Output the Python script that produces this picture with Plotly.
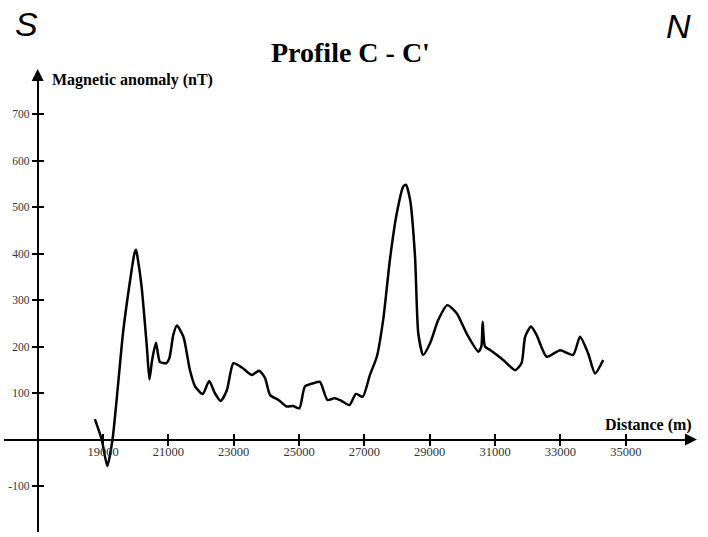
import plotly.graph_objects as go

# ---- data ----
distance_m = [18750, 18960, 19130, 19290, 19620, 19830, 19960, 20010, 20060, 20180,
              20340, 20420, 20500, 20620, 20740, 20930, 21030, 21150, 21260, 21460,
              21660, 21820, 22050, 22250, 22420, 22600, 22790, 22990, 23250, 23550,
              23780, 23960, 24110, 24370, 24620, 24820, 25010, 25180, 25440, 25640,
              25870, 26100, 26300, 26540, 26740, 26950, 27170, 27380, 27580, 27780,
              27990, 28190, 28270, 28400, 28550, 28650, 28800, 29010, 29260, 29540,
              29830, 30130, 30490, 30580, 30620, 30690, 30840, 31250, 31610, 31810,
              31920, 32100, 32270, 32580, 32990, 33390, 33600, 33850, 34060, 34310]
anomaly_nT = [44, 0, -57, 0, 235, 343, 400, 408, 390, 329,
              200, 129, 170, 208, 167, 164, 175, 225, 245, 221,
              149, 114, 98, 126, 100, 83, 106, 164, 155, 139,
              148, 132, 96, 85, 71, 72, 67, 114, 121, 124,
              85, 89, 83, 74, 98, 92, 139, 178, 260, 386,
              486, 544, 548, 515, 393, 228, 182, 207, 257, 289,
              271, 228, 189, 200, 253, 200, 193, 171, 149, 164,
              221, 243, 225, 178, 192, 182, 221, 185, 142, 171]

x_tickvals = [19000, 21000, 23000, 25000, 27000, 29000, 31000, 33000, 35000]
x_ticktext = ["19000", "21000", "23000", "25000", "27000", "29000", "31000", "33000", "35000"]
y_tickvals = [-100, 100, 200, 300, 400, 500, 600, 700]
y_ticktext = ["-100", "100", "200", "300", "400", "500", "600", "700"]

title_text = "Profile C - C'"
y_title = "Magnetic anomaly (nT)"
x_title = "Distance (m)"
left_label = "S"
right_label = "N"

# ---- axes geometry ----
x_range = [15968, 37028]
y_range = [-198.9, 783.9]
y_axis_at = 17000
x_axis_at = 0
ypos = (y_axis_at - x_range[0]) / (x_range[1] - x_range[0])
xpos = (x_axis_at - y_range[0]) / (y_range[1] - y_range[0])

serif = "Liberation Serif, Times New Roman, serif"
sans = "Liberation Sans, Arial, sans-serif"

fig = go.Figure()
fig.add_trace(go.Scatter(x=distance_m, y=anomaly_nT, mode="lines",
                         line=dict(color="black", width=2.5, shape="spline", smoothing=0.6),
                         hoverinfo="skip", showlegend=False))
# invisible copy to carry the overlaid tick axes
fig.add_trace(go.Scatter(x=distance_m, y=anomaly_nT, mode="lines", xaxis="x2", yaxis="y2",
                         opacity=0, line=dict(width=0), hoverinfo="skip", showlegend=False))

common_x = dict(range=x_range, tickvals=x_tickvals, ticktext=x_ticktext, showgrid=False,
                zeroline=False, anchor="free", position=xpos, fixedrange=True)
common_y = dict(range=y_range, tickvals=y_tickvals, ticktext=y_ticktext, showgrid=False,
                zeroline=False, anchor="free", position=ypos, fixedrange=True)

fig.update_layout(
    width=708, height=537, autosize=False,
    margin=dict(l=4, r=16, t=75, b=5, pad=0),
    paper_bgcolor="white", plot_bgcolor="white",
    xaxis=dict(**common_x, showline=True, linecolor="black", linewidth=2,
               ticks="inside", ticklen=5, tickwidth=1.5, tickcolor="black",
               tickfont=dict(family=serif, size=12.5, color="#333")),
    yaxis=dict(**common_y, showline=True, linecolor="black", linewidth=2,
               ticks="outside", ticklen=5, tickwidth=1.5, tickcolor="black",
               tickfont=dict(family=serif, size=11.5, color="#333")),
    xaxis2=dict(**common_x, overlaying="x", showline=False, ticks="outside", ticklen=5,
                tickwidth=1.5, tickcolor="black", showticklabels=False),
    yaxis2=dict(**common_y, overlaying="y", showline=False, ticks="inside", ticklen=5,
                tickwidth=1.5, tickcolor="black", showticklabels=False),
)

# axis arrowheads
fig.add_annotation(x=y_axis_at, y=1.0131, xref="x", yref="paper", ax=0, ay=14, text="",
                   showarrow=True, arrowhead=2, arrowsize=1.2, arrowwidth=2,
                   arrowcolor="black", standoff=0)
fig.add_annotation(x=1.0073, y=x_axis_at, xref="paper", yref="y", ax=-14, ay=0, text="",
                   showarrow=True, arrowhead=2, arrowsize=1.2, arrowwidth=2,
                   arrowcolor="black", standoff=0)

# texts
fig.add_annotation(x=0.503, y=1.049, xref="paper", yref="paper", text="<b>%s</b>" % title_text,
                   showarrow=False, font=dict(family=serif, size=28, color="black"),
                   xanchor="center", yanchor="middle")
fig.add_annotation(x=0.0669, y=0.989, xref="paper", yref="paper", text="<b>%s</b>" % y_title,
                   showarrow=False, font=dict(family=serif, size=16, color="black"),
                   xanchor="left", yanchor="middle")
fig.add_annotation(x=1.0029, y=0.2341, xref="paper", yref="paper", text="<b>%s</b>" % x_title,
                   showarrow=False, font=dict(family=serif, size=16, color="black"),
                   xanchor="right", yanchor="middle")
fig.add_annotation(x=0.0334, y=1.112, xref="paper", yref="paper", text="<i>%s</i>" % left_label,
                   showarrow=False, font=dict(family=sans, size=34, color="black"),
                   xanchor="center", yanchor="middle")
fig.add_annotation(x=0.9797, y=1.108, xref="paper", yref="paper", text="<i>%s</i>" % right_label,
                   showarrow=False, font=dict(family=sans, size=34, color="black"),
                   xanchor="center", yanchor="middle")

fig.write_html("out.html", config={"displayModeBar": False},
               post_script="document.body.style.margin='0';")
